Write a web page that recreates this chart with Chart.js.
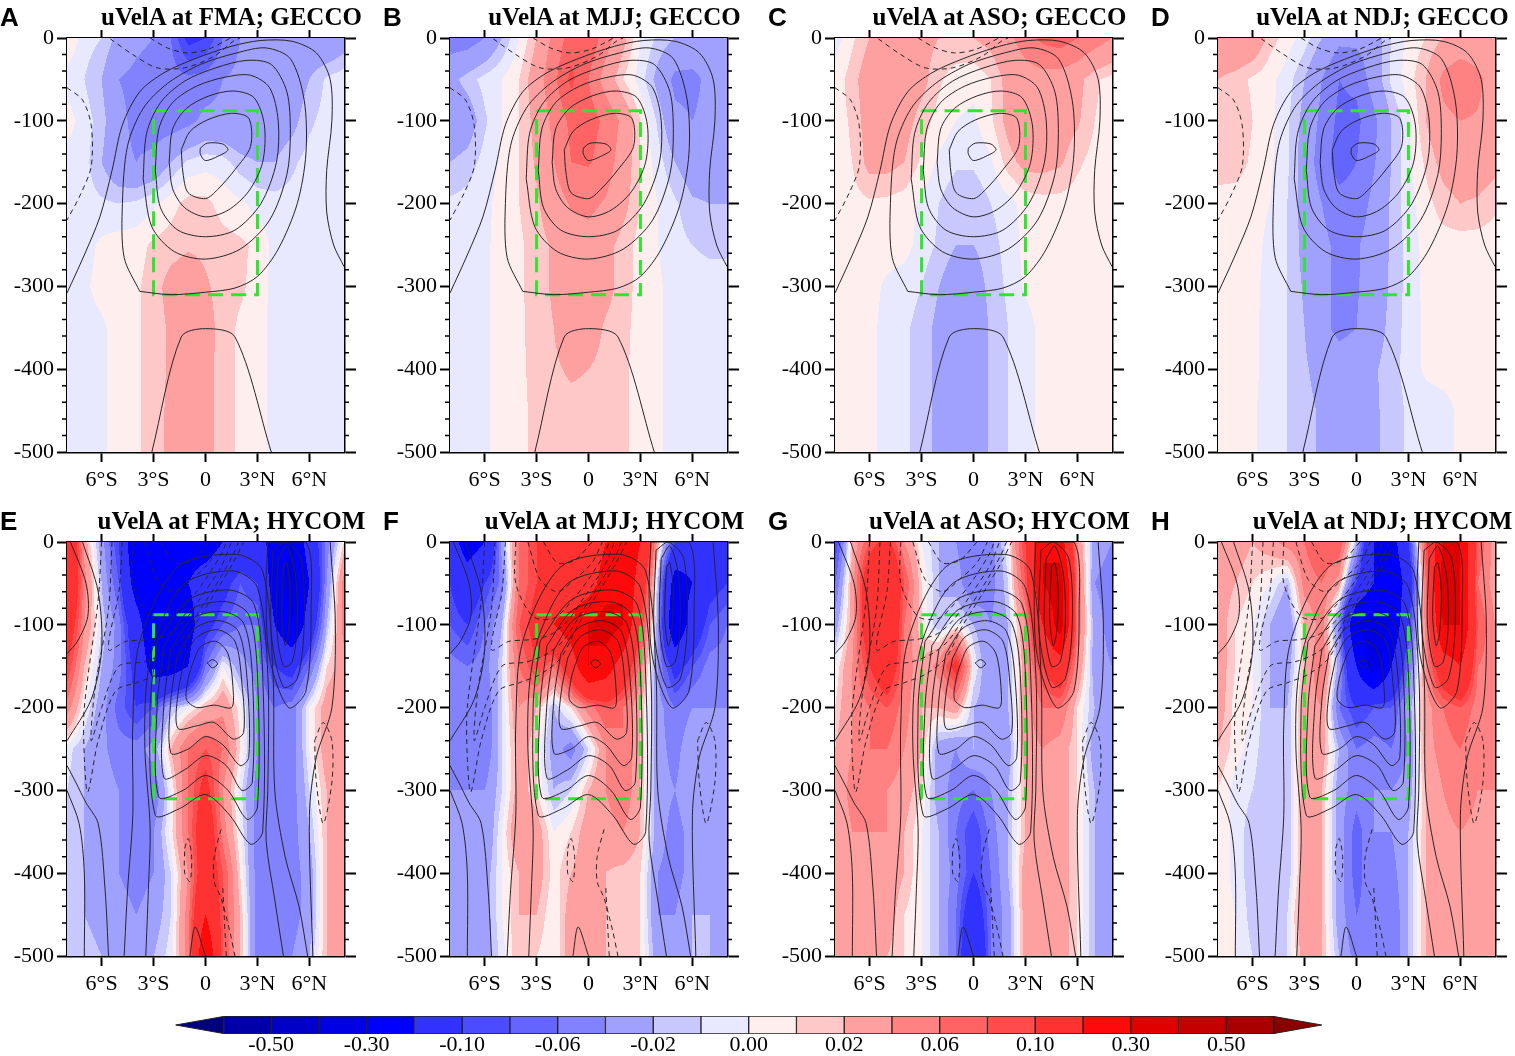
<!DOCTYPE html>
<html>
<head>
<meta charset="utf-8">
<script src="https://cdn.jsdelivr.net/npm/chart.js@4.4.1/dist/chart.umd.min.js"></script>
<style>
body { margin: 0; width: 1515px; height: 1056px; background: #fff; position: relative; overflow: hidden; }
canvas { position: absolute; }
.letter { position: absolute; font: bold 26px "Liberation Sans", Arial, sans-serif; line-height: 26px; }
.title { position: absolute; width: 400px; text-align: center; white-space: nowrap;
         font: bold 25px "Liberation Serif", "Times New Roman", serif; line-height: 25px; }
</style>
</head>
<body>
<script>
// grid of the colour field: latitude (deg, S negative) and depth (m)
const latGrid = [-8, -7, -6, -5, -4, -3, -2, -1, 0, 1, 2, 3, 4, 5, 6, 7, 8];
const depthGrid = [0, -50, -100, -150, -200, -250, -300, -350, -400, -450, -500];

// colour bar levels and colours (24 colours = 22 boxes + 2 end triangles)
const levels = [-0.6, -0.5, -0.4, -0.3, -0.2, -0.1, -0.08, -0.06, -0.04, -0.02, -0.01, 0,
                0.01, 0.02, 0.04, 0.06, 0.08, 0.1, 0.2, 0.3, 0.4, 0.5, 0.6];
const levelColors = ['#000080', '#0000a8', '#0000c8', '#0000e4', '#0000ff', '#3232ff', '#4b4bff',
                     '#6464ff', '#8282ff', '#a0a0ff', '#c8c8ff', '#e8e8ff',
                     '#ffeeee', '#ffc8c8', '#ffa0a0', '#ff8282', '#ff6464', '#ff4b4b',
                     '#ff3232', '#ff0a0a', '#e00000', '#c40000', '#a80000', '#880000'];
const cbLabelValues = [-0.5, -0.3, -0.1, -0.06, -0.02, 0, 0.02, 0.06, 0.1, 0.3, 0.5];

const latTicks = [-6, -3, 0, 3, 6];
const latTickLabels = ['6°S', '3°S', '0', '3°N', '6°N'];
const depthTicks = [0, -100, -200, -300, -400, -500];
const minorDepthStep = 20;

// green box (lat range, depth range)
const boxLat = [-3, 3];
const boxDepth = [-88, -310];

const panelLetters = ['A', 'B', 'C', 'D', 'E', 'F', 'G', 'H'];
const panelTitles = ['uVelA at FMA; GECCO', 'uVelA at MJJ; GECCO', 'uVelA at ASO; GECCO', 'uVelA at NDJ; GECCO',
                     'uVelA at FMA; HYCOM', 'uVelA at MJJ; HYCOM', 'uVelA at ASO; HYCOM', 'uVelA at NDJ; HYCOM'];

// zonal velocity anomaly (m/s), rows = depthGrid, columns = latGrid
const fmaGecco = [
  [0.01, -0.005, -0.01, -0.025, -0.035, -0.04, -0.06, -0.11, -0.1, -0.06, -0.04, -0.03, -0.03, -0.03, -0.035, -0.04, -0.03],
  [-0.005, -0.01, -0.02, -0.04, -0.045, -0.05, -0.05, -0.055, -0.05, -0.04, -0.035, -0.035, -0.03, -0.03, -0.02, -0.008, -0.003],
  [0.005, -0.005, -0.015, -0.035, -0.045, -0.05, -0.05, -0.045, -0.035, -0.035, -0.04, -0.04, -0.03, -0.025, -0.012, -0.006, -0.004],
  [-0.005, -0.006, -0.02, -0.035, -0.04, -0.035, -0.02, -0.008, -0.004, -0.006, -0.015, -0.02, -0.02, -0.012, -0.006, -0.005, -0.005],
  [-0.006, -0.006, -0.008, -0.01, -0.008, -0.002, 0.006, 0.014, 0.013, 0.006, 0.002, -0.004, -0.006, -0.006, -0.006, -0.006, -0.006],
  [-0.005, -0.004, 0.002, 0.005, 0.006, 0.012, 0.015, 0.018, 0.017, 0.014, 0.012, 0.008, -0.004, -0.006, -0.006, -0.006, -0.006],
  [-0.004, -0.002, 0.004, 0.006, 0.008, 0.015, 0.025, 0.03, 0.022, 0.015, 0.012, 0.006, -0.004, -0.006, -0.006, -0.006, -0.006],
  [-0.005, -0.004, -0.002, 0.005, 0.008, 0.015, 0.022, 0.028, 0.026, 0.015, 0.008, 0.005, -0.004, -0.006, -0.006, -0.006, -0.006],
  [-0.005, -0.004, -0.002, 0.005, 0.008, 0.015, 0.022, 0.028, 0.025, 0.015, 0.008, 0.005, -0.004, -0.006, -0.006, -0.006, -0.006],
  [-0.005, -0.004, -0.002, 0.005, 0.008, 0.015, 0.023, 0.028, 0.025, 0.015, 0.008, 0.005, -0.004, -0.006, -0.006, -0.006, -0.006],
  [-0.005, -0.004, -0.002, 0.005, 0.008, 0.015, 0.023, 0.028, 0.025, 0.015, 0.008, 0.005, -0.004, -0.006, -0.006, -0.006, -0.006]
];
const mjjGecco = [
  [-0.05, -0.05, -0.04, -0.02, 0.0, 0.02, 0.045, 0.07, 0.075, 0.05, 0.025, 0.0, -0.012, -0.02, -0.025, -0.028, -0.03],
  [-0.025, -0.015, -0.006, 0.0, 0.01, 0.03, 0.055, 0.085, 0.06, 0.03, 0.01, -0.005, -0.025, -0.045, -0.045, -0.035, -0.03],
  [-0.035, -0.03, -0.012, 0.0, 0.01, 0.025, 0.045, 0.065, 0.07, 0.055, 0.035, 0.01, -0.012, -0.035, -0.04, -0.035, -0.03],
  [-0.02, -0.015, -0.006, 0.002, 0.01, 0.022, 0.04, 0.06, 0.062, 0.05, 0.03, 0.01, -0.005, -0.02, -0.03, -0.03, -0.028],
  [-0.008, -0.006, -0.003, 0.004, 0.01, 0.018, 0.03, 0.042, 0.045, 0.038, 0.025, 0.01, 0.0, -0.008, -0.018, -0.02, -0.02],
  [-0.006, -0.005, -0.002, 0.004, 0.008, 0.015, 0.022, 0.03, 0.032, 0.025, 0.015, 0.006, 0.0, -0.006, -0.01, -0.012, -0.012],
  [-0.006, -0.005, -0.002, 0.004, 0.008, 0.015, 0.022, 0.028, 0.03, 0.025, 0.015, 0.006, 0.002, -0.005, -0.006, -0.006, -0.006],
  [-0.006, -0.005, -0.002, 0.004, 0.008, 0.014, 0.02, 0.03, 0.028, 0.018, 0.013, 0.006, 0.002, -0.005, -0.006, -0.006, -0.006],
  [-0.006, -0.005, -0.002, 0.004, 0.008, 0.013, 0.018, 0.022, 0.02, 0.016, 0.012, 0.006, 0.002, -0.005, -0.006, -0.006, -0.006],
  [-0.006, -0.005, -0.002, 0.004, 0.008, 0.012, 0.015, 0.016, 0.016, 0.015, 0.012, 0.006, 0.002, -0.005, -0.006, -0.006, -0.006],
  [-0.006, -0.005, -0.002, 0.004, 0.008, 0.012, 0.015, 0.016, 0.016, 0.015, 0.012, 0.006, 0.002, -0.005, -0.006, -0.006, -0.006]
];
const asoGecco = [
  [-0.005, 0.008, 0.02, 0.025, 0.025, 0.025, 0.02, 0.02, 0.02, 0.025, 0.035, 0.05, 0.065, 0.07, 0.06, 0.05, 0.04],
  [0.004, 0.015, 0.03, 0.032, 0.03, 0.025, 0.012, 0.004, 0.003, 0.01, 0.025, 0.03, 0.032, 0.03, 0.025, 0.012, 0.006],
  [0.004, 0.012, 0.028, 0.03, 0.026, 0.015, 0.006, 0.0, -0.002, 0.008, 0.025, 0.035, 0.03, 0.028, 0.022, 0.01, 0.005],
  [0.004, 0.01, 0.025, 0.025, 0.02, 0.008, -0.002, -0.008, -0.008, -0.002, 0.015, 0.025, 0.025, 0.022, 0.012, 0.006, 0.005],
  [0.004, 0.006, 0.008, 0.007, 0.005, -0.002, -0.01, -0.018, -0.018, -0.01, -0.004, 0.004, 0.006, 0.006, 0.005, 0.005, 0.005],
  [0.005, 0.005, 0.005, 0.005, 0.004, -0.004, -0.012, -0.02, -0.02, -0.014, -0.006, 0.003, 0.005, 0.005, 0.005, 0.005, 0.005],
  [0.005, 0.005, 0.004, -0.002, -0.005, -0.01, -0.02, -0.03, -0.028, -0.016, -0.008, 0.002, 0.005, 0.005, 0.005, 0.005, 0.005],
  [0.005, 0.005, 0.003, -0.004, -0.008, -0.014, -0.024, -0.034, -0.032, -0.018, -0.01, -0.005, 0.004, 0.005, 0.005, 0.005, 0.005],
  [0.005, 0.005, 0.003, -0.004, -0.008, -0.014, -0.024, -0.034, -0.032, -0.018, -0.01, -0.005, 0.004, 0.005, 0.005, 0.005, 0.005],
  [0.005, 0.005, 0.003, -0.004, -0.008, -0.014, -0.024, -0.034, -0.032, -0.018, -0.01, -0.005, 0.004, 0.005, 0.005, 0.005, 0.005],
  [0.005, 0.005, 0.003, -0.004, -0.008, -0.014, -0.024, -0.034, -0.032, -0.018, -0.01, -0.005, 0.004, 0.005, 0.005, 0.005, 0.005]
];
const ndjGecco = [
  [0.035, 0.04, 0.035, 0.015, 0.005, -0.005, -0.02, -0.035, -0.035, -0.03, -0.01, 0.003, 0.01, 0.02, 0.025, 0.025, 0.02],
  [0.02, 0.015, 0.008, 0.003, -0.005, -0.02, -0.04, -0.06, -0.055, -0.03, -0.008, 0.005, 0.02, 0.045, 0.055, 0.045, 0.03],
  [0.02, 0.018, 0.01, 0.003, -0.008, -0.025, -0.045, -0.065, -0.065, -0.045, -0.02, -0.003, 0.02, 0.035, 0.04, 0.038, 0.03],
  [0.015, 0.015, 0.008, 0.002, -0.008, -0.028, -0.05, -0.07, -0.06, -0.042, -0.02, -0.003, 0.012, 0.025, 0.03, 0.03, 0.025],
  [0.006, 0.005, 0.004, 0.0, -0.01, -0.026, -0.04, -0.052, -0.05, -0.035, -0.018, -0.004, 0.006, 0.015, 0.02, 0.018, 0.012],
  [0.005, 0.005, 0.004, -0.003, -0.01, -0.025, -0.035, -0.045, -0.042, -0.032, -0.018, -0.006, 0.004, 0.005, 0.005, 0.005, 0.005],
  [0.005, 0.005, 0.003, -0.004, -0.01, -0.022, -0.035, -0.045, -0.042, -0.03, -0.018, -0.006, 0.003, 0.005, 0.005, 0.005, 0.005],
  [0.005, 0.005, 0.003, -0.005, -0.01, -0.02, -0.035, -0.045, -0.04, -0.028, -0.016, -0.006, 0.002, 0.005, 0.005, 0.005, 0.005],
  [0.005, 0.005, 0.003, -0.005, -0.01, -0.018, -0.026, -0.03, -0.028, -0.022, -0.014, -0.006, 0.002, 0.005, 0.005, 0.005, 0.005],
  [0.005, 0.005, 0.002, -0.006, -0.01, -0.016, -0.022, -0.024, -0.024, -0.022, -0.016, -0.008, -0.006, -0.005, 0.003, 0.005, 0.005],
  [0.005, 0.005, 0.002, -0.006, -0.01, -0.016, -0.022, -0.024, -0.024, -0.022, -0.016, -0.008, -0.006, -0.005, 0.003, 0.005, 0.005]
];
const fmaHycom = [
  [0.2, 0.03, -0.03, -0.1, -0.3, -0.3, -0.3, -0.25, -0.25, -0.2, -0.15, -0.15, -0.25, -0.3, -0.15, -0.05, 0.01],
  [0.2, 0.05, -0.02, -0.08, -0.25, -0.3, -0.25, -0.2, -0.15, -0.12, -0.08, -0.1, -0.25, -0.35, -0.2, -0.04, 0.05],
  [0.15, 0.04, -0.01, -0.05, -0.15, -0.3, -0.3, -0.25, -0.12, -0.08, -0.06, -0.06, -0.2, -0.3, -0.15, -0.02, 0.05],
  [0.1, 0.02, -0.02, -0.05, -0.12, -0.25, -0.25, -0.2, -0.06, 0.0, -0.03, -0.05, -0.1, -0.12, -0.06, 0.01, 0.03],
  [0.05, 0.0, -0.03, -0.07, -0.1, -0.08, -0.02, 0.0, 0.02, 0.035, 0.005, -0.04, -0.06, -0.05, 0.0, 0.03, 0.035],
  [-0.005, -0.02, -0.035, -0.05, -0.05, -0.03, 0.02, 0.06, 0.08, 0.06, 0.01, -0.04, -0.055, -0.05, 0.0, 0.03, 0.03],
  [-0.01, -0.02, -0.03, -0.04, -0.05, -0.06, 0.0, 0.06, 0.12, 0.04, -0.005, -0.05, -0.055, -0.05, -0.01, 0.02, 0.03],
  [-0.01, -0.02, -0.03, -0.04, -0.05, -0.04, 0.005, 0.06, 0.15, 0.05, 0.0, -0.05, -0.055, -0.05, -0.02, 0.02, 0.02],
  [-0.015, -0.02, -0.03, -0.04, -0.05, -0.04, -0.01, 0.04, 0.15, 0.08, 0.01, -0.05, -0.06, -0.05, -0.03, 0.02, 0.02],
  [-0.01, -0.02, -0.03, -0.03, -0.04, -0.03, -0.01, 0.05, 0.2, 0.08, 0.02, -0.05, -0.06, -0.05, -0.03, 0.02, 0.02],
  [-0.01, -0.01, -0.02, -0.02, -0.03, -0.02, -0.005, 0.05, 0.3, 0.08, 0.02, -0.05, -0.06, -0.04, -0.02, 0.02, 0.02]
];
const mjjHycom = [
  [-0.15, -0.25, -0.2, -0.03, 0.06, 0.1, 0.12, 0.1, 0.12, 0.2, 0.3, 0.2, 0.03, -0.1, -0.15, -0.12, -0.1],
  [-0.1, -0.15, -0.1, -0.05, 0.06, 0.1, 0.15, 0.1, 0.15, 0.25, 0.3, 0.15, -0.02, -0.25, -0.2, -0.12, -0.1],
  [-0.08, -0.1, -0.06, -0.02, 0.08, 0.12, 0.2, 0.25, 0.3, 0.35, 0.3, 0.1, -0.03, -0.3, -0.15, -0.08, -0.06],
  [-0.05, -0.06, -0.05, -0.01, 0.06, 0.1, 0.06, 0.15, 0.3, 0.25, 0.15, 0.05, -0.04, -0.12, -0.08, -0.05, -0.05],
  [-0.04, -0.05, -0.06, -0.01, 0.04, 0.02, -0.02, 0.01, 0.05, 0.08, 0.06, 0.02, -0.03, -0.06, -0.04, -0.04, -0.04],
  [-0.04, -0.05, -0.06, -0.01, 0.03, 0.01, -0.03, -0.05, -0.01, 0.04, 0.06, 0.02, -0.03, -0.05, -0.02, -0.03, -0.04],
  [-0.04, -0.04, -0.04, -0.01, 0.03, 0.01, -0.02, -0.01, 0.02, 0.04, 0.06, 0.02, -0.03, -0.04, -0.02, -0.03, -0.04],
  [-0.03, -0.04, -0.04, 0.0, 0.04, 0.03, 0.0, 0.01, 0.03, 0.03, 0.04, 0.02, -0.03, -0.05, -0.03, -0.03, -0.03],
  [-0.03, -0.04, -0.03, 0.0, 0.02, 0.03, 0.005, 0.02, 0.03, 0.02, 0.015, 0.01, -0.04, -0.05, -0.03, -0.03, -0.03],
  [-0.03, -0.04, -0.03, 0.0, 0.02, 0.02, 0.0, 0.03, 0.03, 0.02, 0.015, 0.01, -0.04, -0.04, -0.02, -0.02, -0.03],
  [-0.03, -0.04, -0.03, -0.005, 0.02, 0.01, 0.0, 0.03, 0.035, 0.02, 0.02, 0.01, -0.03, -0.04, -0.02, -0.02, -0.03]
];
const asoHycom = [
  [-0.1, 0.02, 0.08, 0.12, 0.04, 0.0, -0.02, -0.04, -0.06, -0.05, 0.0, 0.1, 0.3, 0.25, 0.04, -0.03, -0.04],
  [-0.06, 0.03, 0.15, 0.2, 0.08, 0.01, -0.02, -0.03, -0.06, -0.05, -0.01, 0.08, 0.3, 0.35, 0.06, -0.04, -0.05],
  [-0.03, 0.03, 0.15, 0.2, 0.06, 0.01, -0.02, 0.0, -0.02, -0.04, -0.02, 0.04, 0.2, 0.35, 0.06, -0.03, -0.05],
  [0.0, 0.04, 0.1, 0.15, 0.06, 0.02, 0.05, 0.12, 0.0, -0.04, -0.02, 0.03, 0.1, 0.15, 0.04, -0.03, -0.04],
  [0.01, 0.04, 0.06, 0.08, 0.05, 0.02, 0.02, 0.03, -0.02, -0.03, -0.02, 0.03, 0.06, 0.06, 0.01, -0.02, -0.04],
  [0.02, 0.04, 0.06, 0.06, 0.04, 0.02, -0.03, -0.04, -0.02, -0.03, -0.03, 0.03, 0.04, 0.03, 0.01, -0.03, -0.04],
  [0.02, 0.05, 0.05, 0.04, 0.03, 0.01, -0.03, -0.05, -0.06, -0.04, -0.02, 0.02, 0.04, 0.03, 0.01, -0.02, -0.03],
  [0.02, 0.04, 0.04, 0.04, 0.02, 0.0, -0.02, -0.06, -0.1, -0.05, -0.02, 0.02, 0.04, 0.03, 0.01, -0.02, -0.03],
  [0.02, 0.04, 0.03, 0.03, 0.02, 0.0, -0.02, -0.05, -0.1, -0.06, -0.02, 0.03, 0.04, 0.03, 0.01, -0.02, -0.03],
  [0.02, 0.04, 0.02, 0.03, 0.01, 0.0, -0.02, -0.06, -0.15, -0.06, -0.03, 0.03, 0.04, 0.03, 0.01, -0.02, -0.03],
  [0.02, 0.03, 0.02, 0.02, 0.01, 0.0, -0.02, -0.06, -0.2, -0.06, -0.03, 0.03, 0.04, 0.03, 0.01, -0.02, -0.03]
];
const ndjHycom = [
  [0.03, 0.03, 0.02, 0.03, 0.05, 0.06, 0.08, 0.08, -0.02, -0.2, -0.25, -0.1, 0.08, 0.3, 0.3, 0.08, 0.03],
  [0.03, 0.02, 0.01, 0.0, -0.02, 0.05, 0.06, 0.03, -0.1, -0.2, -0.3, -0.15, 0.06, 0.35, 0.3, 0.06, 0.03],
  [0.03, 0.01, 0.0, -0.02, -0.04, 0.02, 0.05, -0.05, -0.3, -0.35, -0.3, -0.1, 0.05, 0.3, 0.3, 0.08, 0.04],
  [0.03, 0.01, 0.0, -0.02, -0.03, 0.02, 0.06, -0.03, -0.2, -0.35, -0.2, -0.06, 0.04, 0.15, 0.2, 0.06, 0.05],
  [0.03, 0.005, 0.0, -0.02, -0.02, 0.03, 0.04, -0.06, -0.1, -0.08, -0.08, -0.03, 0.03, 0.06, 0.08, 0.05, 0.04],
  [0.02, 0.005, -0.005, -0.02, -0.02, 0.03, 0.03, -0.02, -0.06, -0.05, -0.06, -0.04, 0.03, 0.05, 0.06, 0.04, 0.04],
  [0.01, -0.005, -0.01, -0.02, -0.02, 0.03, 0.02, -0.03, -0.05, -0.04, -0.04, -0.03, 0.02, 0.04, 0.06, 0.04, 0.04],
  [0.01, -0.005, -0.015, -0.02, -0.02, 0.03, 0.02, -0.03, -0.07, -0.04, -0.04, -0.02, 0.02, 0.03, 0.04, 0.03, 0.03],
  [0.01, -0.005, -0.015, -0.02, -0.02, 0.03, 0.02, -0.03, -0.07, -0.04, -0.05, -0.02, 0.02, 0.03, 0.03, 0.03, 0.03],
  [0.01, 0.0, -0.015, -0.02, -0.01, 0.04, 0.02, -0.03, -0.06, -0.05, -0.06, -0.02, 0.02, 0.04, 0.03, 0.03, 0.03],
  [0.01, 0.0, -0.01, -0.02, -0.01, 0.03, 0.02, -0.02, -0.05, -0.05, -0.06, -0.02, 0.02, 0.04, 0.03, 0.03, 0.03]
];

// mean-current contours [lat, depth]; solid = eastward, dashed = westward
const geccoSolid = [
  [[-0.3, -133], [0.1, -127], [1.0, -128], [1.3, -135], [0.9, -141], [0, -148], [-0.3, -140], [-0.3, -133]],
  [[-1.4, -135], [-0.9, -113], [0.1, -99], [1.5, -91], [2.5, -97], [2.6, -131], [1.7, -159], [0.7, -183], [0, -194], [-1.0, -187], [-1.3, -163], [-1.4, -135]],
  [[-2.1, -150], [-1.9, -110], [-1.1, -85], [0.2, -70], [1.6, -64], [2.8, -72], [3.4, -105], [3.3, -150], [2.5, -185], [1.3, -208], [0, -216], [-1.2, -205], [-1.9, -182], [-2.1, -150]],
  [[-2.9, -160], [-2.7, -110], [-1.9, -78], [-0.5, -58], [1.2, -47], [2.6, -45], [3.7, -60], [4.2, -100], [4.1, -150], [3.2, -200], [1.7, -232], [0, -240], [-1.6, -232], [-2.6, -205], [-2.9, -160]],
  [[-3.6, -170], [-3.4, -115], [-2.6, -78], [-1.2, -52], [0.6, -36], [2.4, -27], [3.8, -32], [4.7, -65], [4.9, -115], [4.7, -165], [3.7, -220], [2.0, -255], [0, -267], [-1.8, -258], [-3.1, -228], [-3.6, -170]],
  [[-3.8, -306], [-4.7, -265], [-4.8, -200], [-4.5, -130], [-3.6, -85], [-2.2, -55], [-0.3, -32], [1.8, -18], [3.5, -12], [4.9, -25], [5.7, -75], [5.8, -140], [5.3, -200], [4.2, -255], [3.0, -288], [1.7, -302], [0, -307], [-2, -310], [-3.8, -306]],
  [[-8, -308], [-7.0, -262], [-6.1, -216], [-5.4, -160], [-4.8, -105], [-3.8, -65], [-2.4, -42], [-0.6, -25], [1.5, -10], [3.2, -3], [5.0, -4], [6.4, -18], [7.2, -50], [7.3, -100], [7.0, -160], [7.0, -210], [7.4, -250], [8, -276]],
  [[-3.1, -500], [-1.4, -361], [0, -351], [1.7, -361], [3.8, -500]]
];
const geccoDashed = [
  [[-5.5, -1], [-4.2, -20], [-2.8, -36], [-1.2, -36], [0.5, -22], [1.6, -4], [2.0, 0]],
  [[-3.2, 0], [-2.2, -12], [-1.1, -18], [0.1, -14], [1.1, -4], [1.45, 0]],
  [[-8, -60], [-7.1, -75], [-6.6, -106], [-6.6, -155], [-7.2, -188], [-8, -220]]
];
const hycomSolid = [
  [[0.1, -146], [0.4, -142], [0.7, -147], [0.4, -152], [0.1, -146]],
  [[-0.8, -150], [-0.3, -127], [0.6, -120], [1.3, -135], [1.6, -180], [1.5, -200], [0.5, -197], [-0.5, -200], [-1.1, -190], [-1.0, -165], [-0.8, -150]],
  [[-1.2, -140], [-0.5, -115], [0.7, -106], [1.7, -120], [2.1, -170], [2.2, -230], [1.6, -238], [0.5, -218], [-0.5, -222], [-1.6, -225], [-1.6, -185], [-1.2, -140]],
  [[-1.6, -135], [-0.6, -104], [0.8, -95], [1.9, -108], [2.4, -165], [2.5, -260], [2.0, -270], [1.0, -245], [0, -235], [-1.0, -250], [-2.0, -255], [-2.0, -190], [-1.6, -135]],
  [[-2.0, -130], [-0.8, -93], [1.0, -84], [2.2, -98], [2.7, -160], [2.7, -290], [2.1, -300], [1.2, -270], [0, -258], [-1.2, -275], [-2.4, -285], [-2.4, -195], [-2.0, -130]],
  [[-2.4, -125], [-0.9, -82], [1.2, -72], [2.5, -88], [3.0, -160], [3.0, -320], [2.4, -335], [1.3, -300], [0, -282], [-1.3, -300], [-2.7, -308], [-2.8, -200], [-2.4, -125]],
  [[-2.8, -120], [-1.0, -70], [1.4, -58], [2.8, -75], [3.3, -160], [3.3, -350], [2.6, -365], [1.4, -330], [0, -305], [-1.5, -322], [-2.9, -330], [-3.2, -200], [-2.8, -120]],
  [[-3.45, -500], [-3.3, -420], [-3.2, -345], [-3.5, -250], [-3.4, -170], [-2.8, -110], [-1.2, -50], [1.6, -35], [3.0, -55], [3.6, -160], [3.6, -300], [3.5, -360], [4.0, -432], [4.5, -500]],
  [[-4.7, -500], [-4.5, -420], [-4.2, -330], [-4.2, -220], [-3.8, -120], [-1.6, -30], [1.8, -15], [3.3, -35], [3.9, -160], [4.0, -300], [4.6, -380], [5.4, -440], [5.9, -500]],
  [[4.5, -30], [4.7, -25], [4.9, -60], [4.8, -110], [4.6, -125], [4.4, -90], [4.5, -30]],
  [[4.2, -20], [4.7, -5], [5.2, -40], [5.3, -100], [5.0, -145], [4.5, -150], [4.1, -100], [4.2, -20]],
  [[3.9, -10], [4.6, 0], [5.5, -20], [5.7, -100], [5.3, -165], [4.5, -175], [3.8, -110], [3.9, -10]],
  [[3.6, 0], [5.8, 0], [6.1, -80], [5.8, -180], [4.8, -200], [3.7, -140], [3.5, -60], [3.6, 0]],
  [[7.2, 0], [7.5, -100], [7.3, -200], [6.4, -260], [6.0, -330], [6.2, -500]],
  [[-7.8, 0], [-6.9, -50], [-6.8, -90], [-7.4, -120], [-8, -135]],
  [[-7.1, 0], [-6.2, -60], [-6.0, -130], [-6.6, -190], [-8, -240]],
  [[-8, -300], [-7.3, -340], [-7.0, -400], [-7.0, -500]],
  [[-5.6, -500], [-5.8, -420], [-6.2, -340], [-6.9, -315], [-7.5, -290], [-8, -270]],
  [[-0.9, -500], [-0.6, -465], [0, -500]]
];
const hycomDashed = [
  [[-6.0, 0], [-6.2, -70], [-7.0, -200], [-7.0, -260], [-6.8, -302], [-6.2, -240], [-5.2, -180], [-4.0, -170], [-2.8, -160], [-1.6, -140], [-0.6, -100], [0.6, -60], [1.6, -25], [2.2, 0]],
  [[-5.4, 0], [-5.6, -80], [-6.4, -180], [-6.6, -240], [-6.0, -200], [-5.0, -150], [-3.6, -145], [-2.4, -135], [-1.4, -118], [-0.4, -85], [0.8, -45], [1.6, -15], [1.9, 0]],
  [[-4.8, 0], [-5.0, -60], [-5.6, -130], [-4.6, -120], [-3.4, -118], [-2.2, -112], [-1.2, -95], [-0.2, -65], [0.9, -30], [1.5, 0]],
  [[-4.2, 0], [-4.2, -50], [-3.2, -90], [-2.0, -92], [-1.0, -72], [0, -45], [0.9, -15], [1.2, 0]],
  [[-3.5, 0], [-2.8, -45], [-1.8, -60], [-0.8, -45], [0.2, -25], [0.8, 0]],
  [[-2.6, 0], [-1.8, -25], [-0.8, -22], [0.2, 0]],
  [[6.3, -240], [6.8, -218], [7.3, -240], [7.3, -290], [6.8, -340], [6.4, -290], [6.3, -240]],
  [[-1.2, -370], [-1.0, -358], [-0.8, -380], [-0.9, -410], [-1.2, -400], [-1.2, -370]],
  [[0.9, -347], [0.5, -380], [0.5, -410], [0.9, -430], [1.4, -470], [1.7, -500]],
  [[1.0, -418], [1.1, -460], [1.2, -500]]
];

const panelFields = [fmaGecco, mjjGecco, asoGecco, ndjGecco, fmaHycom, mjjHycom, asoHycom, ndjHycom];

// layout of the figure
const colLeft = [67, 450, 835, 1218];
const rowTop = [38, 542];
const plotW = 277, plotH = 414;
const serif = '"Liberation Serif", "Times New Roman", serif';

function hexToRgb(h) {
  return [parseInt(h.slice(1, 3), 16), parseInt(h.slice(3, 5), 16), parseInt(h.slice(5, 7), 16)];
}
const levelRgb = levelColors.map(hexToRgb);

function locate(arr, v) {
  const asc = arr[1] > arr[0];
  for (let i = 0; i < arr.length - 1; i++) {
    const a = arr[i], b = arr[i + 1];
    if ((asc && v <= b) || (!asc && v >= b)) {
      return [i, Math.min(1, Math.max(0, (v - a) / (b - a)))];
    }
  }
  return [arr.length - 2, 1];
}

function colorIndex(v) {
  let k = 0;
  while (k < levels.length && v >= levels[k]) k++;
  return k;
}

// filled field drawn under the contour lines
const fieldPlugin = {
  id: 'field',
  beforeDatasetsDraw(chart, args, opts) {
    const grid = opts.values;
    if (!grid) return;
    const area = chart.chartArea;
    const xs = chart.scales.x, ys = chart.scales.y;
    const x0 = Math.round(area.left), y0 = Math.round(area.top);
    const w = Math.round(area.right) - x0, h = Math.round(area.bottom) - y0;
    const img = chart.ctx.createImageData(w, h);
    const cols = [];
    for (let px = 0; px < w; px++) cols.push(locate(latGrid, xs.getValueForPixel(x0 + px + 0.5)));
    for (let py = 0; py < h; py++) {
      const [r, ty] = locate(depthGrid, ys.getValueForPixel(y0 + py + 0.5));
      const rowA = grid[r], rowB = grid[r + 1];
      for (let px = 0; px < w; px++) {
        const [c, tx] = cols[px];
        const top = rowA[c] * (1 - tx) + rowA[c + 1] * tx;
        const bot = rowB[c] * (1 - tx) + rowB[c + 1] * tx;
        const v = Math.round((top * (1 - ty) + bot * ty) * 1e7) / 1e7;
        const rgb = levelRgb[colorIndex(v)];
        const o = (py * w + px) * 4;
        img.data[o] = rgb[0]; img.data[o + 1] = rgb[1]; img.data[o + 2] = rgb[2]; img.data[o + 3] = 255;
      }
    }
    chart.ctx.putImageData(img, x0, y0);
  }
};

// short depth ticks every 20 m on both sides
const minorTickPlugin = {
  id: 'minorTicks',
  afterDraw(chart) {
    const ctx = chart.ctx, ys = chart.scales.y, area = chart.chartArea;
    ctx.save();
    ctx.strokeStyle = '#000';
    ctx.lineWidth = 1.5;
    ctx.beginPath();
    for (let d = depthTicks[0]; d >= depthTicks[depthTicks.length - 1]; d -= minorDepthStep) {
      if (depthTicks.includes(d)) continue;
      const y = ys.getPixelForValue(d);
      ctx.moveTo(area.left - 5, y); ctx.lineTo(area.left, y);
      ctx.moveTo(area.right, y); ctx.lineTo(area.right + 5, y);
    }
    ctx.stroke();
    ctx.restore();
  }
};

function lineDataset(points, dashed) {
  return {
    data: points.map(p => ({ x: p[0], y: p[1] })),
    showLine: true,
    pointRadius: 0,
    borderColor: '#262626',
    borderWidth: 1,
    borderDash: dashed ? [5, 4] : [],
    tension: 0.3,
    fill: false
  };
}

function boxDataset() {
  const pts = [[boxLat[0], boxDepth[0]], [boxLat[1], boxDepth[0]], [boxLat[1], boxDepth[1]],
               [boxLat[0], boxDepth[1]], [boxLat[0], boxDepth[0]]];
  return {
    data: pts.map(p => ({ x: p[0], y: p[1] })),
    showLine: true,
    pointRadius: 0,
    borderColor: '#2ee62e',
    borderWidth: 3,
    borderDash: [15, 8],
    tension: 0
  };
}

const axisBorder = { display: true, color: '#000', width: 2.5 };
const latTickList = s => { s.ticks = latTicks.map(v => ({ value: v })); };
const depthTickList = s => { s.ticks = depthTicks.map(v => ({ value: v })); };

function makePanel(i) {
  const L = colLeft[i % 4], T = rowTop[Math.floor(i / 4)];
  const cw = 66 + plotW + 24, ch = 20 + plotH + 46;
  const canvas = document.createElement('canvas');
  canvas.width = cw; canvas.height = ch;
  canvas.style.left = (L - 66) + 'px';
  canvas.style.top = (T - 20) + 'px';
  canvas.style.width = cw + 'px';
  canvas.style.height = ch + 'px';
  document.body.appendChild(canvas);

  const letter = document.createElement('div');
  letter.className = 'letter';
  letter.textContent = panelLetters[i];
  letter.style.left = (L - 67) + 'px';
  letter.style.top = (T - 34.5) + 'px';
  document.body.appendChild(letter);

  const title = document.createElement('div');
  title.className = 'title';
  title.textContent = panelTitles[i];
  title.style.left = (L + plotW / 2 + 26 - 200) + 'px';
  title.style.top = (T - 34.5) + 'px';
  document.body.appendChild(title);

  const gecco = i < 4;
  const solid = gecco ? geccoSolid : hycomSolid;
  const dashed = gecco ? geccoDashed : hycomDashed;
  const datasets = [];
  solid.forEach(l => datasets.push(lineDataset(l, false)));
  dashed.forEach(l => datasets.push(lineDataset(l, true)));
  datasets.push(boxDataset());

  new Chart(canvas, {
    type: 'scatter',
    data: { datasets: datasets },
    options: {
      responsive: false,
      devicePixelRatio: 1,
      animation: false,
      events: [],
      layout: { padding: 0 },
      plugins: {
        legend: { display: false },
        tooltip: { enabled: false },
        field: { values: panelFields[i] }
      },
      scales: {
        x: {
          type: 'linear', axis: 'x', position: 'bottom', min: -8, max: 8, z: 1,
          afterBuildTicks: latTickList,
          afterFit: s => { s.height = 46; },
          ticks: {
            callback: v => latTickLabels[latTicks.indexOf(v)],
            font: { family: serif, size: 22 }, color: '#000', padding: 5,
            maxRotation: 0, autoSkip: false
          },
          grid: { drawOnChartArea: false, drawTicks: true, tickLength: 10, tickWidth: 2, tickColor: '#000' },
          border: axisBorder
        },
        xTop: {
          type: 'linear', axis: 'x', position: 'top', min: -8, max: 8, z: 1,
          afterBuildTicks: latTickList,
          afterFit: s => { s.height = 20; },
          ticks: { display: false },
          grid: { drawOnChartArea: false, drawTicks: true, tickLength: 8, tickWidth: 2, tickColor: '#000' },
          border: axisBorder
        },
        y: {
          type: 'linear', axis: 'y', position: 'left', min: -500, max: 0, z: 1,
          afterBuildTicks: depthTickList,
          afterFit: s => { s.width = 66; },
          ticks: {
            callback: v => String(v),
            font: { family: serif, size: 22 }, color: '#000', padding: 3
          },
          grid: { drawOnChartArea: false, drawTicks: true, tickLength: 10, tickWidth: 2, tickColor: '#000' },
          border: axisBorder
        },
        yR: {
          type: 'linear', axis: 'y', position: 'right', min: -500, max: 0, z: 1,
          afterBuildTicks: depthTickList,
          afterFit: s => { s.width = 24; },
          ticks: { display: false },
          grid: { drawOnChartArea: false, drawTicks: true, tickLength: 12, tickWidth: 2, tickColor: '#000' },
          border: axisBorder
        }
      }
    },
    plugins: [fieldPlugin, minorTickPlugin]
  });
}

for (let i = 0; i < 8; i++) makePanel(i);

// colour bar
const cbTriangles = {
  id: 'cbTriangles',
  afterDatasetsDraw(chart) {
    const ctx = chart.ctx, xs = chart.scales.x, area = chart.chartArea;
    const mid = (area.top + area.bottom) / 2;
    const ends = [[-1, 0, levelColors[0]], [levels.length, levels.length - 1, levelColors[levelColors.length - 1]]];
    ctx.save();
    ends.forEach(e => {
      ctx.beginPath();
      ctx.moveTo(xs.getPixelForValue(e[0]), mid);
      ctx.lineTo(xs.getPixelForValue(e[1]), area.top + 0.5);
      ctx.lineTo(xs.getPixelForValue(e[1]), area.bottom - 0.5);
      ctx.closePath();
      ctx.fillStyle = e[2];
      ctx.fill();
      ctx.strokeStyle = '#222';
      ctx.lineWidth = 1;
      ctx.stroke();
    });
    ctx.restore();
  }
};

(function makeColorbar() {
  const canvas = document.createElement('canvas');
  canvas.width = 1160; canvas.height = 51;
  canvas.style.left = '170px'; canvas.style.top = '1005px';
  canvas.style.width = '1160px'; canvas.style.height = '51px';
  document.body.appendChild(canvas);
  const boxes = [];
  for (let j = 0; j < levels.length - 1; j++) {
    boxes.push({
      data: [1],
      backgroundColor: levelColors[j + 1],
      borderColor: '#222',
      borderWidth: 1,
      borderSkipped: false,
      barPercentage: 1,
      categoryPercentage: 1,
      stack: 'cb'
    });
  }
  new Chart(canvas, {
    type: 'bar',
    data: { labels: [''], datasets: boxes },
    options: {
      indexAxis: 'y',
      responsive: false,
      devicePixelRatio: 1,
      animation: false,
      events: [],
      layout: { padding: { left: 5.7, right: 8.3, top: 11, bottom: 0 } },
      plugins: { legend: { display: false }, tooltip: { enabled: false } },
      scales: {
        x: {
          type: 'linear', min: -1, max: levels.length, stacked: true,
          afterBuildTicks: s => { s.ticks = cbLabelValues.map(v => ({ value: levels.indexOf(v) })); },
          afterFit: s => { s.height = 22; },
          ticks: {
            callback: v => levels[v].toFixed(2),
            font: { family: serif, size: 22 }, color: '#000', padding: -2,
            maxRotation: 0, autoSkip: false
          },
          grid: { display: false, drawTicks: false, tickLength: 0 },
          border: { display: false }
        },
        y: { stacked: true, display: false }
      }
    },
    plugins: [cbTriangles]
  });
})();
</script>
</body>
</html>
